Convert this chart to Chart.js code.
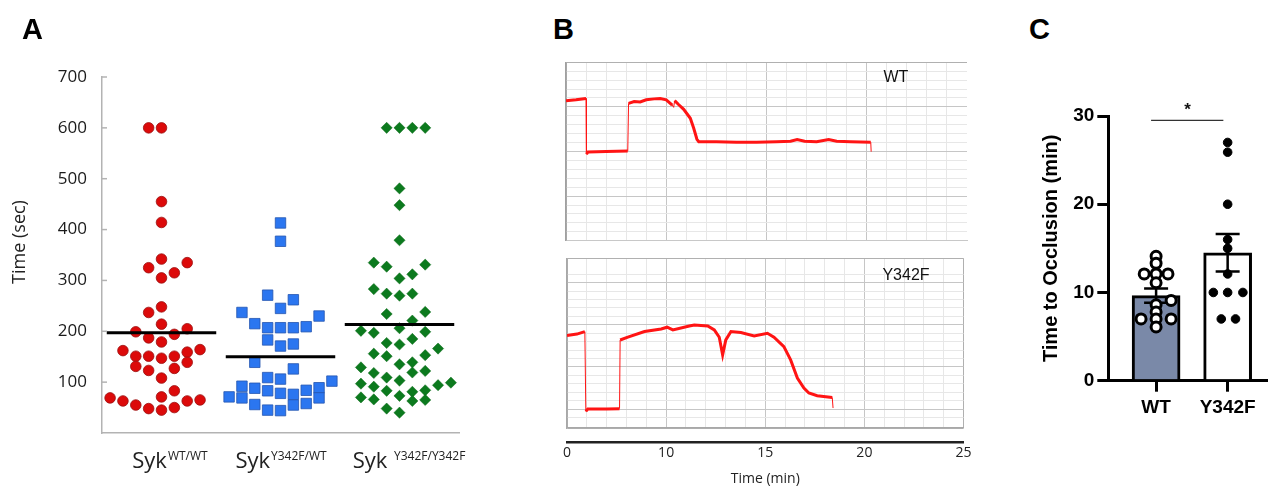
<!DOCTYPE html>
<html><head><meta charset="utf-8">
<script src="https://cdn.jsdelivr.net/npm/chart.js@4.4.1/dist/chart.umd.min.js"></script>
<style>
html,body{margin:0;padding:0;background:#fff;}
#page{position:relative;width:1274px;height:487px;overflow:hidden;background:#fff;}
canvas{position:absolute;}
.letter{position:absolute;font:bold 29px "Liberation Sans",Arial,sans-serif;color:#000;line-height:29px;}
</style></head><body>
<div id="page">
  <canvas id="cA" width="480" height="487" style="left:0;top:0"></canvas>
  <canvas id="cB1" width="420" height="195" style="left:560px;top:55px"></canvas>
  <canvas id="cB2" width="420" height="237" style="left:560px;top:250px"></canvas>
  <canvas id="cC" width="254" height="397" style="left:1020px;top:90px"></canvas>
  <div class="letter" style="left:22px;top:15px">A</div>
  <div class="letter" style="left:553px;top:15px">B</div>
  <div class="letter" style="left:1029px;top:15px">C</div>
</div>
<script>
// ---------------- DATA ----------------
// Panel A: time (sec) per animal, and swarm column each point occupies
const aCatMain = ['Syk', 'Syk', 'Syk '];
const aCatSup = ['WT/WT', 'Y342F/WT', 'Y342F/Y342F'];
const aYTitle = 'Time (sec)';
const wtVals = [600,600,455,414,342,335,325,315,305,248,237,214,199,205,187,194,179,162,164,151,151,147,151,159,139,131,123,127,108,83,71,69,63,55,48,45,50,63,65];
const wtCols = [-1,0,0,0,0,2,-1,1,0,0,-1,0,-2,2,-1,1,0,-3,3,-2,-1,0,1,2,2,-2,-1,1,0,1,0,-4,-3,-2,-1,0,1,2,3];
const hetVals = [413,377,245,207,171,106,78,44, 271,207,183,109,83,45, 262,207,175,126,76,55, 215,139,88,56, 209,84,58, 237,92,69, 230,89,69, 71, 102];
const hetCols = [0,0,0,0,0,0,0,0, -1,-1,-1,-1,-1,-1, 1,1,1,1,1,1, -2,-2,-2,-2, 2,2,2, -3,-3,-3, 3,3,3, -4, 4];
const homVals = [600,600,600,600, 481,448,379, 335,327,331,304,312, 283,274,270,274, 234,238,221, 201,197,206,199, 177,174,185,166, 156,151,153, 135,139, 129,118,119,122, 109,103, 97,91,94,99, 83,81,84, 73,70,66,63,65, 48,40];
const homCols = [-1,0,1,2, 0,0,0, -2,-1,2,0,1, -2,-1,0,1, -1,2,1, -3,-2,0,2, -1,0,1,3, -2,-1,2, 0,1, -3,-2,1,2, -1,0, -3,-2,3,4, -1,1,2, 0,-3,-2,1,2, -1,0];

// Panel B: flow traces (x in chart grid units, y in chart grid units)
const timeTickLabels = ['0', '10', '15', '20', '25'];
const bTitle = 'Time (min)';
const wtTraceT = [0,0.5,1.0,1.02,1.1,2.0,3.08,3.12,3.4,3.7,4.0,4.4,4.7,5.0,5.3,5.37,5.42,5.6,5.87,6.2,6.37,6.53,6.62,7.5,8.5,9.5,10.5,11.2,11.53,11.9,12.5,13.1,13.5,14.2,15.2,15.22];
const wtTraceV = [15.7,15.8,15.95,9.7,9.95,10.0,10.05,15.4,15.6,15.55,15.8,15.9,15.95,15.8,15.2,14.95,15.7,15.3,14.73,13.72,12.6,11.37,11.1,11.1,11.05,11.05,11.1,11.15,11.35,11.15,11.1,11.35,11.15,11.1,11.05,9.98];
const mutTraceT = [0,0.5,0.9,0.95,1.05,2.0,2.65,2.68,3.07,3.91,4.75,5.05,5.34,6.17,6.42,7.1,7.43,7.68,7.85,8.01,8.27,8.77,9.44,10.11,10.44,10.94,11.28,11.62,11.95,12.2,12.62,13.38,13.42];
const mutTraceV = [13.72,13.9,14.2,4.72,5.0,5.02,5.05,13.2,13.53,14.2,14.51,14.72,14.4,14.87,14.99,14.87,14.4,13.53,11.43,13.21,14.2,14.08,13.69,14.0,13.53,12.42,10.84,8.67,7.49,6.9,6.58,6.38,5.12];
const bLabels = ['WT', 'Y342F'];

// Panel C: time to occlusion (min)
const cGroups = ['WT', 'Y342F'];
const cMeans = [9.65, 14.5];
const cSem = [0.81, 2.13];
const cWtVals = [14.1,13.3,12.1,12.1,12.1,11.1,9.1,8.6,7.8,7.0,7.0,7.0,6.1];
const cWtCols = [0,0,-0.166,0,0.166,0,0.21,0,0,-0.21,0,0.21,0];
const cMutVals = [27,25.9,20,16,15,12.1,10,10,10,7,7];
const cMutCols = [0,0,0,0,0,0,-0.2,0,0.213,-0.089,0.11];
const cYTitle = 'Time to Occlusion (min)';
const cSigText = '*';

// ---------------- CHARTS ----------------
Chart.defaults.font.family = '"Open Sans", sans-serif';
Chart.defaults.color = '#222';
Chart.defaults.animation = false;
Chart.defaults.plugins.legend.display = false;
Chart.defaults.plugins.tooltip.enabled = false;

const SLOT = 0.108;
const swarm = (vals, cols, ci) => vals.map((v, i) => ({x: ci + 0.5 + cols[i] * SLOT, y: v}));
const mean = a => a.reduce((s, v) => s + v, 0) / a.length;
const meanLine = (vals, ci) => [{x: ci + 0.04, y: mean(vals)}, {x: ci + 0.96, y: mean(vals)}];

const panelAPlugin = {
  id: 'panelA',
  afterDraw(chart) {
    const {ctx, scales: {x, y}} = chart;
    ctx.save();
    ctx.strokeStyle = '#b3b3b3'; ctx.lineWidth = 1.5;
    y.ticks.forEach(t => {
      if (t.value === 0) return;
      const py = y.getPixelForValue(t.value);
      ctx.beginPath(); ctx.moveTo(x.left, py); ctx.lineTo(x.left + 5, py); ctx.stroke();
    });
    ctx.fillStyle = '#222';
    ctx.save();
    ctx.font = '18px "Open Sans"'; ctx.textAlign = 'center'; ctx.textBaseline = 'middle';
    ctx.translate(20, 242); ctx.rotate(-Math.PI / 2); ctx.fillText(aYTitle, 0, 0);
    ctx.restore();
    const shifts = [8, 0, 9];
    ctx.textAlign = 'left'; ctx.textBaseline = 'alphabetic';
    aCatMain.forEach((m, i) => {
      ctx.font = '22px "Open Sans"'; const w1 = ctx.measureText(m).width;
      ctx.font = '12px "Open Sans"'; const w2 = ctx.measureText(aCatSup[i]).width;
      const x0 = x.getPixelForValue(i + 0.5) - (w1 + w2) / 2 + shifts[i];
      ctx.font = '22px "Open Sans"'; ctx.fillText(m, x0, 468);
      ctx.font = '12px "Open Sans"'; ctx.fillText(aCatSup[i], x0 + w1 + 1, 460);
    });
    ctx.restore();
  }
};

new Chart(document.getElementById('cA'), {
  type: 'scatter',
  data: {datasets: [
    {type: 'line', data: meanLine(wtVals, 0), borderColor: '#000', borderWidth: 3, pointRadius: 0, order: 0},
    {type: 'line', data: meanLine(hetVals, 1), borderColor: '#000', borderWidth: 3, pointRadius: 0, order: 0},
    {type: 'line', data: meanLine(homVals, 2), borderColor: '#000', borderWidth: 3, pointRadius: 0, order: 0},
    {data: swarm(wtVals, wtCols, 0), pointStyle: 'circle', pointRadius: 5.3, backgroundColor: '#dc0a0a', borderColor: '#9a1010', borderWidth: 0.8, order: 1},
    {data: swarm(hetVals, hetCols, 1), pointStyle: 'rect', pointRadius: 7.4, backgroundColor: '#2b76f0', borderColor: '#2456b0', borderWidth: 0.8, order: 1},
    {data: swarm(homVals, homCols, 2), pointStyle: 'rectRot', pointRadius: 5.6, backgroundColor: '#0c7a1e', borderColor: '#0c6a1a', borderWidth: 0.5, order: 1}
  ]},
  options: {
    responsive: false, devicePixelRatio: 1,
    layout: {padding: {left: 0, top: 77, right: 21, bottom: 0}},
    scales: {
      x: {type: 'linear', min: 0, max: 3, ticks: {display: false},
          grid: {display: true, drawOnChartArea: false, drawTicks: false},
          border: {color: '#b3b3b3', width: 1.5}, afterFit: s => { s.height = 54; }},
      y: {type: 'linear', min: 0, max: 700,
          ticks: {stepSize: 100, padding: 15, color: '#1a1a1a', font: {size: 17}, callback: v => v === 0 ? '' : v},
          grid: {display: true, drawOnChartArea: false, drawTicks: false},
          border: {color: '#b3b3b3', width: 1.5}, afterFit: s => { s.width = 102; }}
    }
  },
  plugins: [panelAPlugin]
});

// Panel B
const MAJOR = '#c6c6c6', MINOR = '#e7e7e7', EDGE = '#b0b0b0';
const gridColor = c => {
  if (!c.tick) return MINOR;
  const v = c.tick.value;
  if (Math.abs(v - c.scale.min) < 1e-6 || Math.abs(v - c.scale.max) < 1e-6) return EDGE;
  return Math.abs(v % 5) < 1e-6 ? MAJOR : MINOR;
};
const gridColorOpenRight = c => (c.tick && Math.abs(c.tick.value - c.scale.max) < 1e-6) ? 'rgba(0,0,0,0)' : gridColor(c);
const traceData = (ts, vs) => ts.map((t, i) => ({x: t, y: vs[i]}));
const traceSegment = {borderWidth: c => (Math.abs(c.p1.x - c.p0.x) < 1.5 ? 1 : 3)};
const bLabelPlugin = (text, xv, yv) => ({
  id: 'bl' + text,
  afterDraw(chart) {
    const {ctx, scales: {x, y}} = chart;
    ctx.save(); ctx.fillStyle = '#111'; ctx.font = '16px "Liberation Sans"';
    ctx.textAlign = 'center'; ctx.textBaseline = 'middle';
    ctx.fillText(text, x.getPixelForValue(xv), y.getPixelForValue(yv));
    ctx.restore();
  }
});

new Chart(document.getElementById('cB1'), {
  type: 'line',
  data: {datasets: [{data: traceData(wtTraceT, wtTraceV), borderColor: '#ff1414', borderWidth: 3, pointRadius: 0, tension: 0, segment: traceSegment}]},
  options: {
    responsive: false, devicePixelRatio: 1,
    layout: {padding: {left: 6, top: 7.3, right: 13, bottom: 9.3}},
    scales: {
      x: {type: 'linear', min: 0, max: 20, ticks: {display: false, stepSize: 1},
          grid: {color: gridColorOpenRight, drawTicks: false, lineWidth: 1}, border: {color: '#c8c8c8', width: 1},
          afterFit: s => { s.height = 0; }},
      y: {type: 'linear', min: 0, max: 20, ticks: {display: false, stepSize: 1},
          grid: {color: gridColor, drawTicks: false, lineWidth: 1}, border: {color: '#a0a0a0', width: 1.5},
          afterFit: s => { s.width = 0; }}
    }
  },
  plugins: [bLabelPlugin(bLabels[0], 16.45, 18.25)]
});

new Chart(document.getElementById('cB2'), {
  type: 'line',
  data: {datasets: [{data: traceData(mutTraceT, mutTraceV), borderColor: '#ff1414', borderWidth: 3, pointRadius: 0, tension: 0, segment: traceSegment}]},
  options: {
    responsive: false, devicePixelRatio: 1,
    layout: {padding: {left: 5.5, top: 8.3, right: 16.5, bottom: 0}},
    scales: {
      x: {type: 'linear', position: 'bottom', weight: 0, min: 0, max: 20, ticks: {display: false, stepSize: 1},
          grid: {color: gridColor, drawTicks: false, lineWidth: 1}, border: {color: '#a8a8a8', width: 1.2},
          afterFit: s => { s.height = 14; }},
      xt: {type: 'linear', position: 'bottom', weight: 1, min: 0, max: 20,
           ticks: {stepSize: 5, padding: 3, color: '#222', font: {size: 14}, callback: (v, i) => timeTickLabels[i]},
           grid: {display: true, drawOnChartArea: false, drawTicks: false},
           border: {color: '#222', width: 2.5},
           title: {display: true, text: bTitle, color: '#222', font: {size: 14}, padding: {top: 0, bottom: 0}},
           afterFit: s => { s.height = 45; }},
      y: {type: 'linear', min: 2.75, max: 22.9, ticks: {display: false, stepSize: 1},
          grid: {color: gridColor, drawTicks: false, lineWidth: 1}, border: {color: '#a8a8a8', width: 1.5},
          afterFit: s => { s.width = 0; }}
    }
  },
  plugins: [bLabelPlugin(bLabels[1], 17.1, 20.88)]
});

// Panel C
const cDots = (vals, cols, gi) => vals.map((v, i) => ({x: gi + cols[i], y: v}));
const panelCPlugin = {
  id: 'panelC',
  afterDatasetDraw(chart, args) {
    if (args.index !== 0) return;
    const {ctx, scales: {x, y}} = chart;
    ctx.save(); ctx.strokeStyle = '#000'; ctx.lineWidth = 2.5;
    cMeans.forEach((m, i) => {
      const px = x.getPixelForValue(i);
      const t = y.getPixelForValue(m + cSem[i]), b = y.getPixelForValue(m - cSem[i]);
      ctx.beginPath();
      ctx.moveTo(px, t); ctx.lineTo(px, b);
      ctx.moveTo(px - 12, t); ctx.lineTo(px + 12, t);
      ctx.moveTo(px - 12, b); ctx.lineTo(px + 12, b);
      ctx.stroke();
    });
    ctx.restore();
  },
  afterDraw(chart) {
    const {ctx, scales: {x, y}} = chart;
    ctx.save(); ctx.strokeStyle = '#333'; ctx.lineWidth = 1.2;
    const sy = y.getPixelForValue(29.5);
    ctx.beginPath(); ctx.moveTo(x.getPixelForValue(-0.07), sy); ctx.lineTo(x.getPixelForValue(0.94), sy); ctx.stroke();
    ctx.fillStyle = '#111'; ctx.font = 'bold 17px "Liberation Sans"'; ctx.textAlign = 'center'; ctx.textBaseline = 'middle';
    ctx.fillText(cSigText, x.getPixelForValue(0.44), y.getPixelForValue(30.6));
    ctx.restore();
  }
};

new Chart(document.getElementById('cC'), {
  type: 'bar',
  data: {datasets: [
    {type: 'bar', data: cMeans.map((m, i) => ({x: i, y: m})), backgroundColor: ['#7a89a8', '#ffffff'], borderColor: '#000', borderWidth: 3, barThickness: 48, order: 2},
    {type: 'scatter', data: cDots(cWtVals, cWtCols, 0), pointStyle: 'circle', pointRadius: 5, backgroundColor: '#ffffff', borderColor: '#000', borderWidth: 3, order: 1},
    {type: 'scatter', data: cDots(cMutVals, cMutCols, 1), pointStyle: 'circle', pointRadius: 4.3, backgroundColor: '#000', borderColor: '#000', borderWidth: 1, order: 1}
  ]},
  options: {
    responsive: false, devicePixelRatio: 1,
    layout: {padding: {left: 0, top: 26, right: 0, bottom: 0}},
    scales: {
      x: {type: 'linear', min: -0.668, max: 1.536, offset: false,
          afterBuildTicks: s => { s.ticks = cGroups.map((g, i) => ({value: i})); },
          ticks: {padding: 5, color: '#000', font: {family: '"Liberation Sans"', size: 19, weight: 'bold'}, callback: v => cGroups[Math.round(v)]},
          grid: {display: true, offset: false, drawOnChartArea: false, drawTicks: true, tickLength: 11, color: '#000', lineWidth: 3},
          border: {color: '#000', width: 3}, afterFit: s => { s.height = 106.3; }},
      y: {type: 'linear', min: 0, max: 30,
          ticks: {stepSize: 10, padding: 3, color: '#000', font: {family: '"Liberation Sans"', size: 19, weight: 'bold'}},
          grid: {display: true, drawOnChartArea: false, drawTicks: true, tickLength: 11, color: '#000', lineWidth: 3},
          border: {color: '#000', width: 3},
          title: {display: true, text: cYTitle, color: '#000', font: {family: '"Liberation Sans"', size: 20, weight: 'bold'}, padding: {top: 19.7, bottom: 0}},
          afterFit: s => { s.width = 88.3; }}
    }
  },
  plugins: [panelCPlugin]
});
</script>
</body></html>
